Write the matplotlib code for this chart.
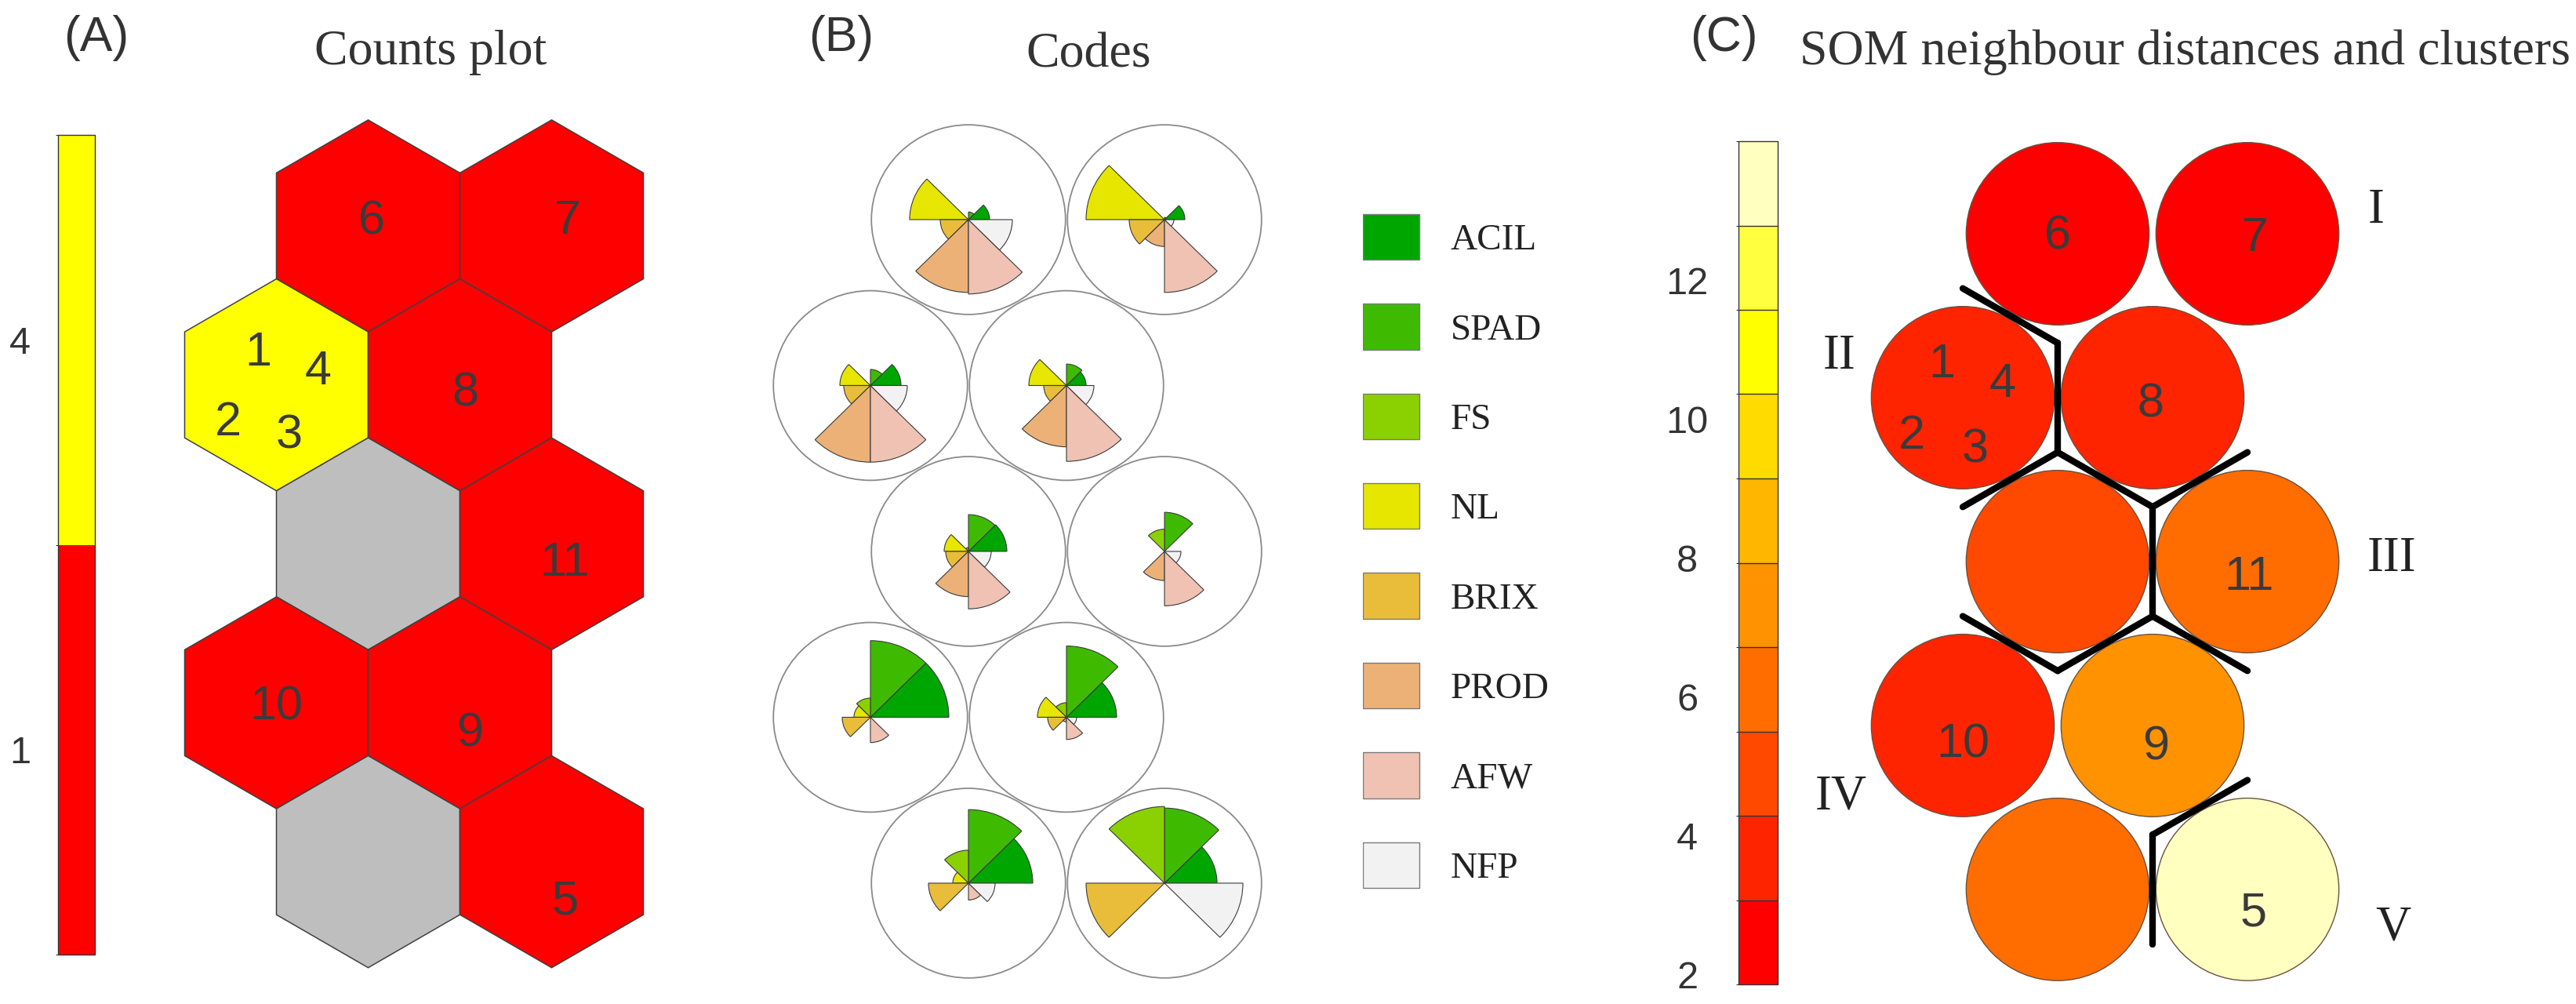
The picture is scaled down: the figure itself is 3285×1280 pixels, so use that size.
import numpy as np
import matplotlib
matplotlib.use('Agg')
from matplotlib import pyplot as plt
from matplotlib.patches import RegularPolygon, Circle, Wedge, Rectangle
from matplotlib.colors import ListedColormap, BoundaryNorm
from matplotlib.cm import ScalarMappable

plt.rcParams['font.family'] = ['Liberation Sans', 'DejaVu Sans']
SERIF = ['Liberation Serif', 'DejaVu Serif']

W, H = 3285, 1280

# SOM 2x5 hexagonal grid, nodes listed from the top row, left to right
grid_row = [0, 0, 1, 1, 2, 2, 3, 3, 4, 4]
grid_col = [0, 1, 0, 1, 0, 1, 0, 1, 0, 1]

# number of samples mapped to each node
counts = [1, 1, 4, 1, 0, 1, 1, 1, 0, 1]

# mean distance to neighbouring nodes
dist = [1.86, 2.3, 3.6, 3.9, 5.0, 6.2, 3.5, 7.4, 6.0, 13.95]

# codebook vectors (scaled 0..1 per variable)
variables = ['ACIL', 'SPAD', 'FS', 'NL', 'BRIX', 'PROD', 'AFW', 'NFP']
ACIL = [0.27, 0.26, 0.39, 0.25, 0.49, 0.00, 1.00, 0.64, 0.82, 0.67]
SPAD = [0.10, 0.03, 0.21, 0.28, 0.48, 0.51, 1.00, 0.93, 0.96, 0.98]
FS   = [0.00, 0.00, 0.00, 0.00, 0.05, 0.29, 0.25, 0.19, 0.43, 1.00]
NL   = [0.75, 1.00, 0.39, 0.48, 0.31, 0.00, 0.21, 0.37, 0.20, 0.00]
BRIX = [0.36, 0.45, 0.34, 0.29, 0.29, 0.00, 0.36, 0.24, 0.51, 1.00]
PROD = [0.95, 0.35, 1.00, 0.80, 0.59, 0.38, 0.00, 0.06, 0.00, 0.00]
AFW  = [0.97, 0.95, 1.00, 0.99, 0.75, 0.71, 0.33, 0.29, 0.22, 0.00]
NFP  = [0.56, 0.12, 0.47, 0.35, 0.29, 0.21, 0.00, 0.13, 0.34, 1.00]
codes = [ACIL, SPAD, FS, NL, BRIX, PROD, AFW, NFP]
var_colors = ['#00A600', '#3EBB00', '#8BD000', '#E6E600',
              '#E9BD3A', '#ECB176', '#EFC2B3', '#F2F2F2']

# sample labels -> node, with small offsets (grid units) used in each panel
sample_node = {'1': 2, '2': 2, '3': 2, '4': 2, '5': 9, '6': 0, '7': 1,
               '8': 3, '9': 7, '10': 6, '11': 5}
offset_a = {'6': (0.02, 0.05), '7': (0.085, 0.05), '8': (0.03, -0.02),
            '11': (0.07, -0.08), '10': (0.0, 0.0), '9': (0.055, -0.145),
            '5': (0.075, -0.19), '1': (-0.10, 0.20), '4': (0.225, 0.095),
            '2': (-0.265, -0.18), '3': (0.07, -0.25)}
offset_c = {'6': (0.0, 0.01), '7': (0.04, 0.0), '8': (-0.01, -0.01),
            '11': (0.01, -0.06), '10': (0.0, -0.075), '9': (0.015, -0.09),
            '5': (0.03, -0.10), '1': (-0.11, 0.20), '4': (0.21, 0.095),
            '2': (-0.27, -0.18), '3': (0.065, -0.25)}

# cluster borders: pairs of neighbouring nodes in different clusters
borders = [(2, 0), (2, 3), (2, 4), (3, 4), (3, 5), (4, 5),
           (4, 6), (4, 7), (5, 7), (7, 9), (8, 9)]
cluster_names = ['I', 'II', 'III', 'IV', 'V']
cluster_pos = [(2.18, 0.15), (-0.65, -0.62), (2.26, -1.69), (-0.64, -2.95), (2.27, -3.64)]

heat10 = ['#FF0000', '#FF2400', '#FF4900', '#FF6D00', '#FF9200',
          '#FFB600', '#FFDB00', '#FFFF00', '#FFFF40', '#FFFFBF']

gx = np.array([c + (0.5 if r % 2 == 0 else 0.0) for r, c in zip(grid_row, grid_col)])
gy = -np.array(grid_row) * np.sqrt(3) / 2

fig = plt.figure(figsize=(W / 100, H / 100), dpi=100)


def panel_axes(left, top, width, height, xlim, ylim):
    ax = fig.add_axes([left / W, 1 - (top + height) / H, width / W, height / H])
    ax.set_xlim(*xlim)
    ax.set_ylim(*ylim)
    ax.axis('off')
    return ax


label_color = '#3a3a3a'

# ---------------- (A) counts plot ----------------
ax_a = panel_axes(188.7, 112.5, 678.6, 1158.3, (-0.7, 2.2), (-4.2, 0.75))
cmap_a = ListedColormap(['#FF0000', '#FFFF00'])
norm_a = BoundaryNorm([-0.5, 2.5, 5.5], 2)
for i in range(len(counts)):
    fc = '#BEBEBE' if counts[i] == 0 else cmap_a(norm_a(counts[i]))
    ax_a.add_patch(RegularPolygon((gx[i], gy[i]), 6, radius=1 / np.sqrt(3),
                                  facecolor=fc, edgecolor='#404040', lw=1.1))
for lab, node in sample_node.items():
    dx, dy = offset_a[lab]
    ax_a.text(gx[node] + dx, gy[node] + dy, lab, ha='center', va='center_baseline',
              fontsize=44, color=label_color)

cax_a = fig.add_axes([74 / W, 1 - 1217 / H, 47 / W, 1045 / H])
cb_a = fig.colorbar(ScalarMappable(norm=norm_a, cmap=cmap_a), cax=cax_a, ticks=[1, 4])
cb_a.ax.yaxis.set_ticks_position('left')
cb_a.ax.tick_params(length=0, pad=35, labelsize=35, colors='#333333')
cb_a.outline.set_edgecolor('#333333')
cb_a.outline.set_linewidth(1.0)
for t in cb_a.ax.get_yticklabels():
    t.set_ha('center')

# ---------------- (B) codes plot ----------------
ax_b = panel_axes(960, 133.5, 675, 1135.5, (-0.6, 2.1), (-4.05, 0.6))
for i in range(len(gx)):
    ax_b.add_patch(Circle((gx[i], gy[i]), 0.495, facecolor='white',
                          edgecolor='#8a8a8a', lw=1.3))
    for k, vals in enumerate(codes):
        r = 0.4 * vals[i]
        if r <= 0:
            continue
        ax_b.add_patch(Wedge((gx[i], gy[i]), r, 45 * k, 45 * (k + 1),
                             facecolor=var_colors[k], edgecolor='#3a3a3a', lw=0.8))

ax_l = panel_axes(1738, 244.8, 343.2, 915.2, (0, 3), (7.5, -0.5))
for k, name in enumerate(variables):
    ax_l.add_patch(Rectangle((0, k - 0.255), 0.63, 0.51, facecolor=var_colors[k],
                             edgecolor='#7a7a7a', lw=1.0))
    ax_l.text(0.975, k, name, ha='left', va='center_baseline', fontsize=34,
              family=SERIF, color='#222222')

# ---------------- (C) neighbour distances ----------------
ax_c = panel_axes(2285.2, 129.1, 847, 1134.1, (-0.9, 2.6), (-4.0, 0.7))
bounds_c = np.linspace(1.86, 14.0, 11)
cmap_c = ListedColormap(heat10)
norm_c = BoundaryNorm(bounds_c, 10)
for i in range(len(dist)):
    ax_c.add_patch(Circle((gx[i], gy[i]), 0.482, facecolor=cmap_c(norm_c(dist[i])),
                          edgecolor='#6a5040', lw=1.0))
for lab, node in sample_node.items():
    dx, dy = offset_c[lab]
    ax_c.text(gx[node] + dx, gy[node] + dy, lab, ha='center', va='center_baseline',
              fontsize=44, color=label_color)

half = 1 / (2 * np.sqrt(3))
for a, b in borders:
    p = np.array([gx[a], gy[a]])
    q = np.array([gx[b], gy[b]])
    mid = (p + q) / 2
    d = (q - p) / np.linalg.norm(q - p)
    perp = np.array([-d[1], d[0]])
    e1, e2 = mid - perp * half, mid + perp * half
    ax_c.plot([e1[0], e2[0]], [e1[1], e2[1]], color='black', lw=6,
              solid_capstyle='round', zorder=5)

for name, (x, y) in zip(cluster_names, cluster_pos):
    ax_c.text(x, y, name, ha='center', va='center_baseline', fontsize=45,
              family=SERIF, color='#222222')

cax_c = fig.add_axes([2217 / W, 1 - 1255 / H, 50 / W, 1075 / H])
cb_c = fig.colorbar(ScalarMappable(norm=norm_c, cmap=cmap_c), cax=cax_c,
                    ticks=[2, 4, 6, 8, 10, 12], drawedges=True)
cb_c.ax.yaxis.set_ticks_position('left')
cb_c.ax.tick_params(length=0, pad=47, labelsize=35, colors='#333333')
cb_c.outline.set_edgecolor('#333333')
cb_c.outline.set_linewidth(1.0)
cb_c.dividers.set_color('#333333')
cb_c.dividers.set_linewidth(1.0)
for t in cb_c.ax.get_yticklabels():
    t.set_ha('center')

# ---------------- titles ----------------
fig.text(123 / W, 1 - 49 / H, '(A)', ha='center', va='center', fontsize=45, color='#333333')
fig.text(1073 / W, 1 - 49 / H, '(B)', ha='center', va='center', fontsize=45, color='#333333')
fig.text(2198 / W, 1 - 49 / H, '(C)', ha='center', va='center', fontsize=45, color='#333333')
fig.text(549 / W, 1 - 82 / H, 'Counts plot', ha='center', va='baseline', fontsize=46,
         family=SERIF, color='#333333')
fig.text(1388 / W, 1 - 85 / H, 'Codes', ha='center', va='baseline', fontsize=46,
         family=SERIF, color='#333333')
fig.text(2295 / W, 1 - 82 / H, 'SOM neighbour distances and clusters', ha='left',
         va='baseline', fontsize=46, family=SERIF, color='#333333')

fig.savefig('out.png', dpi=100, facecolor='white')
